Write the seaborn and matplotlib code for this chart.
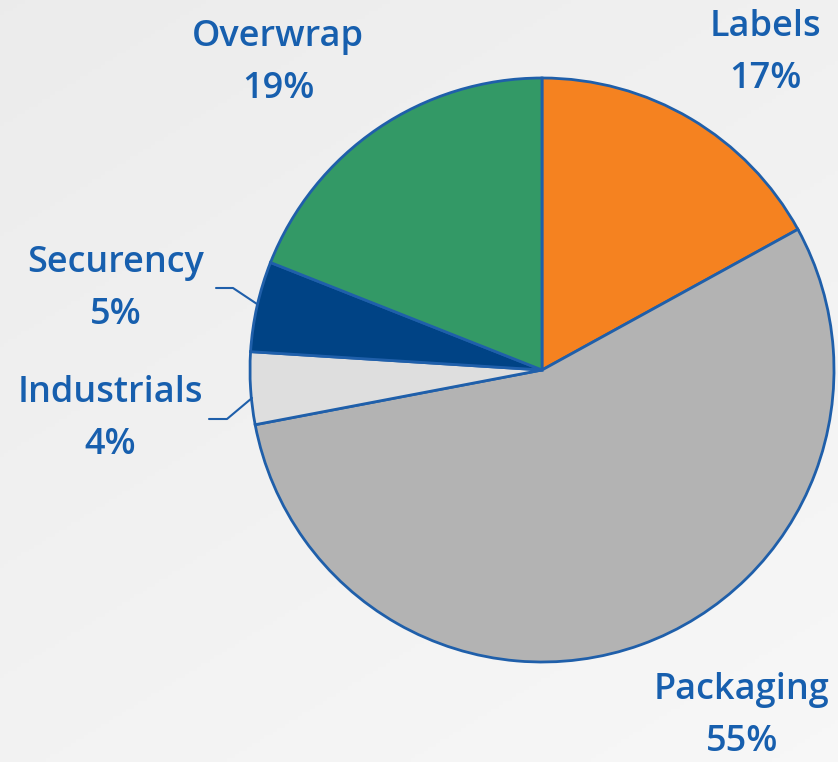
import matplotlib
matplotlib.use("Agg")
import matplotlib.pyplot as plt
import seaborn as sns
import numpy as np

sns.set_theme(style="white")
plt.rcParams['font.family'] = ['Open Sans', 'DejaVu Sans']

categories = ["Labels", "Packaging", "Industrials", "Securency", "Overwrap"]
values = [17, 55, 4, 5, 19]
pct_labels = ["17%", "55%", "4%", "5%", "19%"]
colors = ["#f58220", "#b3b3b3", "#dedede", "#004385", "#339966"]

W, H = 838, 762
fig = plt.figure(figsize=(W / 100, H / 100), dpi=100)

# background gradient
bg = fig.add_axes([0, 0, 1, 1])
yy, xx = np.mgrid[0:1:200j, 0:1:200j]
grad = 0.925 + 0.045 * (0.6 * yy + 0.4 * xx)
bg.imshow(np.dstack([grad, grad, grad]), extent=[0, 1, 0, 1], aspect='auto', origin='upper')
bg.axis('off')

ax = fig.add_axes([0, 0, 1, 1])
ax.set_xlim(0, W)
ax.set_ylim(0, H)
ax.set_aspect('equal')
ax.axis('off')
ax.patch.set_alpha(0)

edge = "#1f5faa"
ax.pie(values, colors=colors, startangle=90, counterclock=False,
       center=(542, H - 370), radius=292,
       wedgeprops=dict(edgecolor=edge, linewidth=2))
ax.set_xlim(0, W)
ax.set_ylim(0, H)

txt_color = "#175fae"
label_pos = {
    "Labels": (765, 53),
    "Packaging": (742, 716),
    "Industrials": (110, 419),
    "Securency": (116, 289),
    "Overwrap": (278, 63),
}
for cat, pct in zip(categories, pct_labels):
    x, y = label_pos[cat]
    ax.text(x, H - y, f"{cat}\n{pct}", ha='center', va='center', color=txt_color,
            fontsize=26, fontweight='semibold', linespacing=1.6)

# leader lines
ax.plot([216, 233, 257], [H - 288, H - 288, H - 304], color=edge, lw=1.5)
ax.plot([209, 227, 252], [H - 419, H - 419, H - 398], color=edge, lw=1.5)

fig.savefig("out.png", dpi=100)
